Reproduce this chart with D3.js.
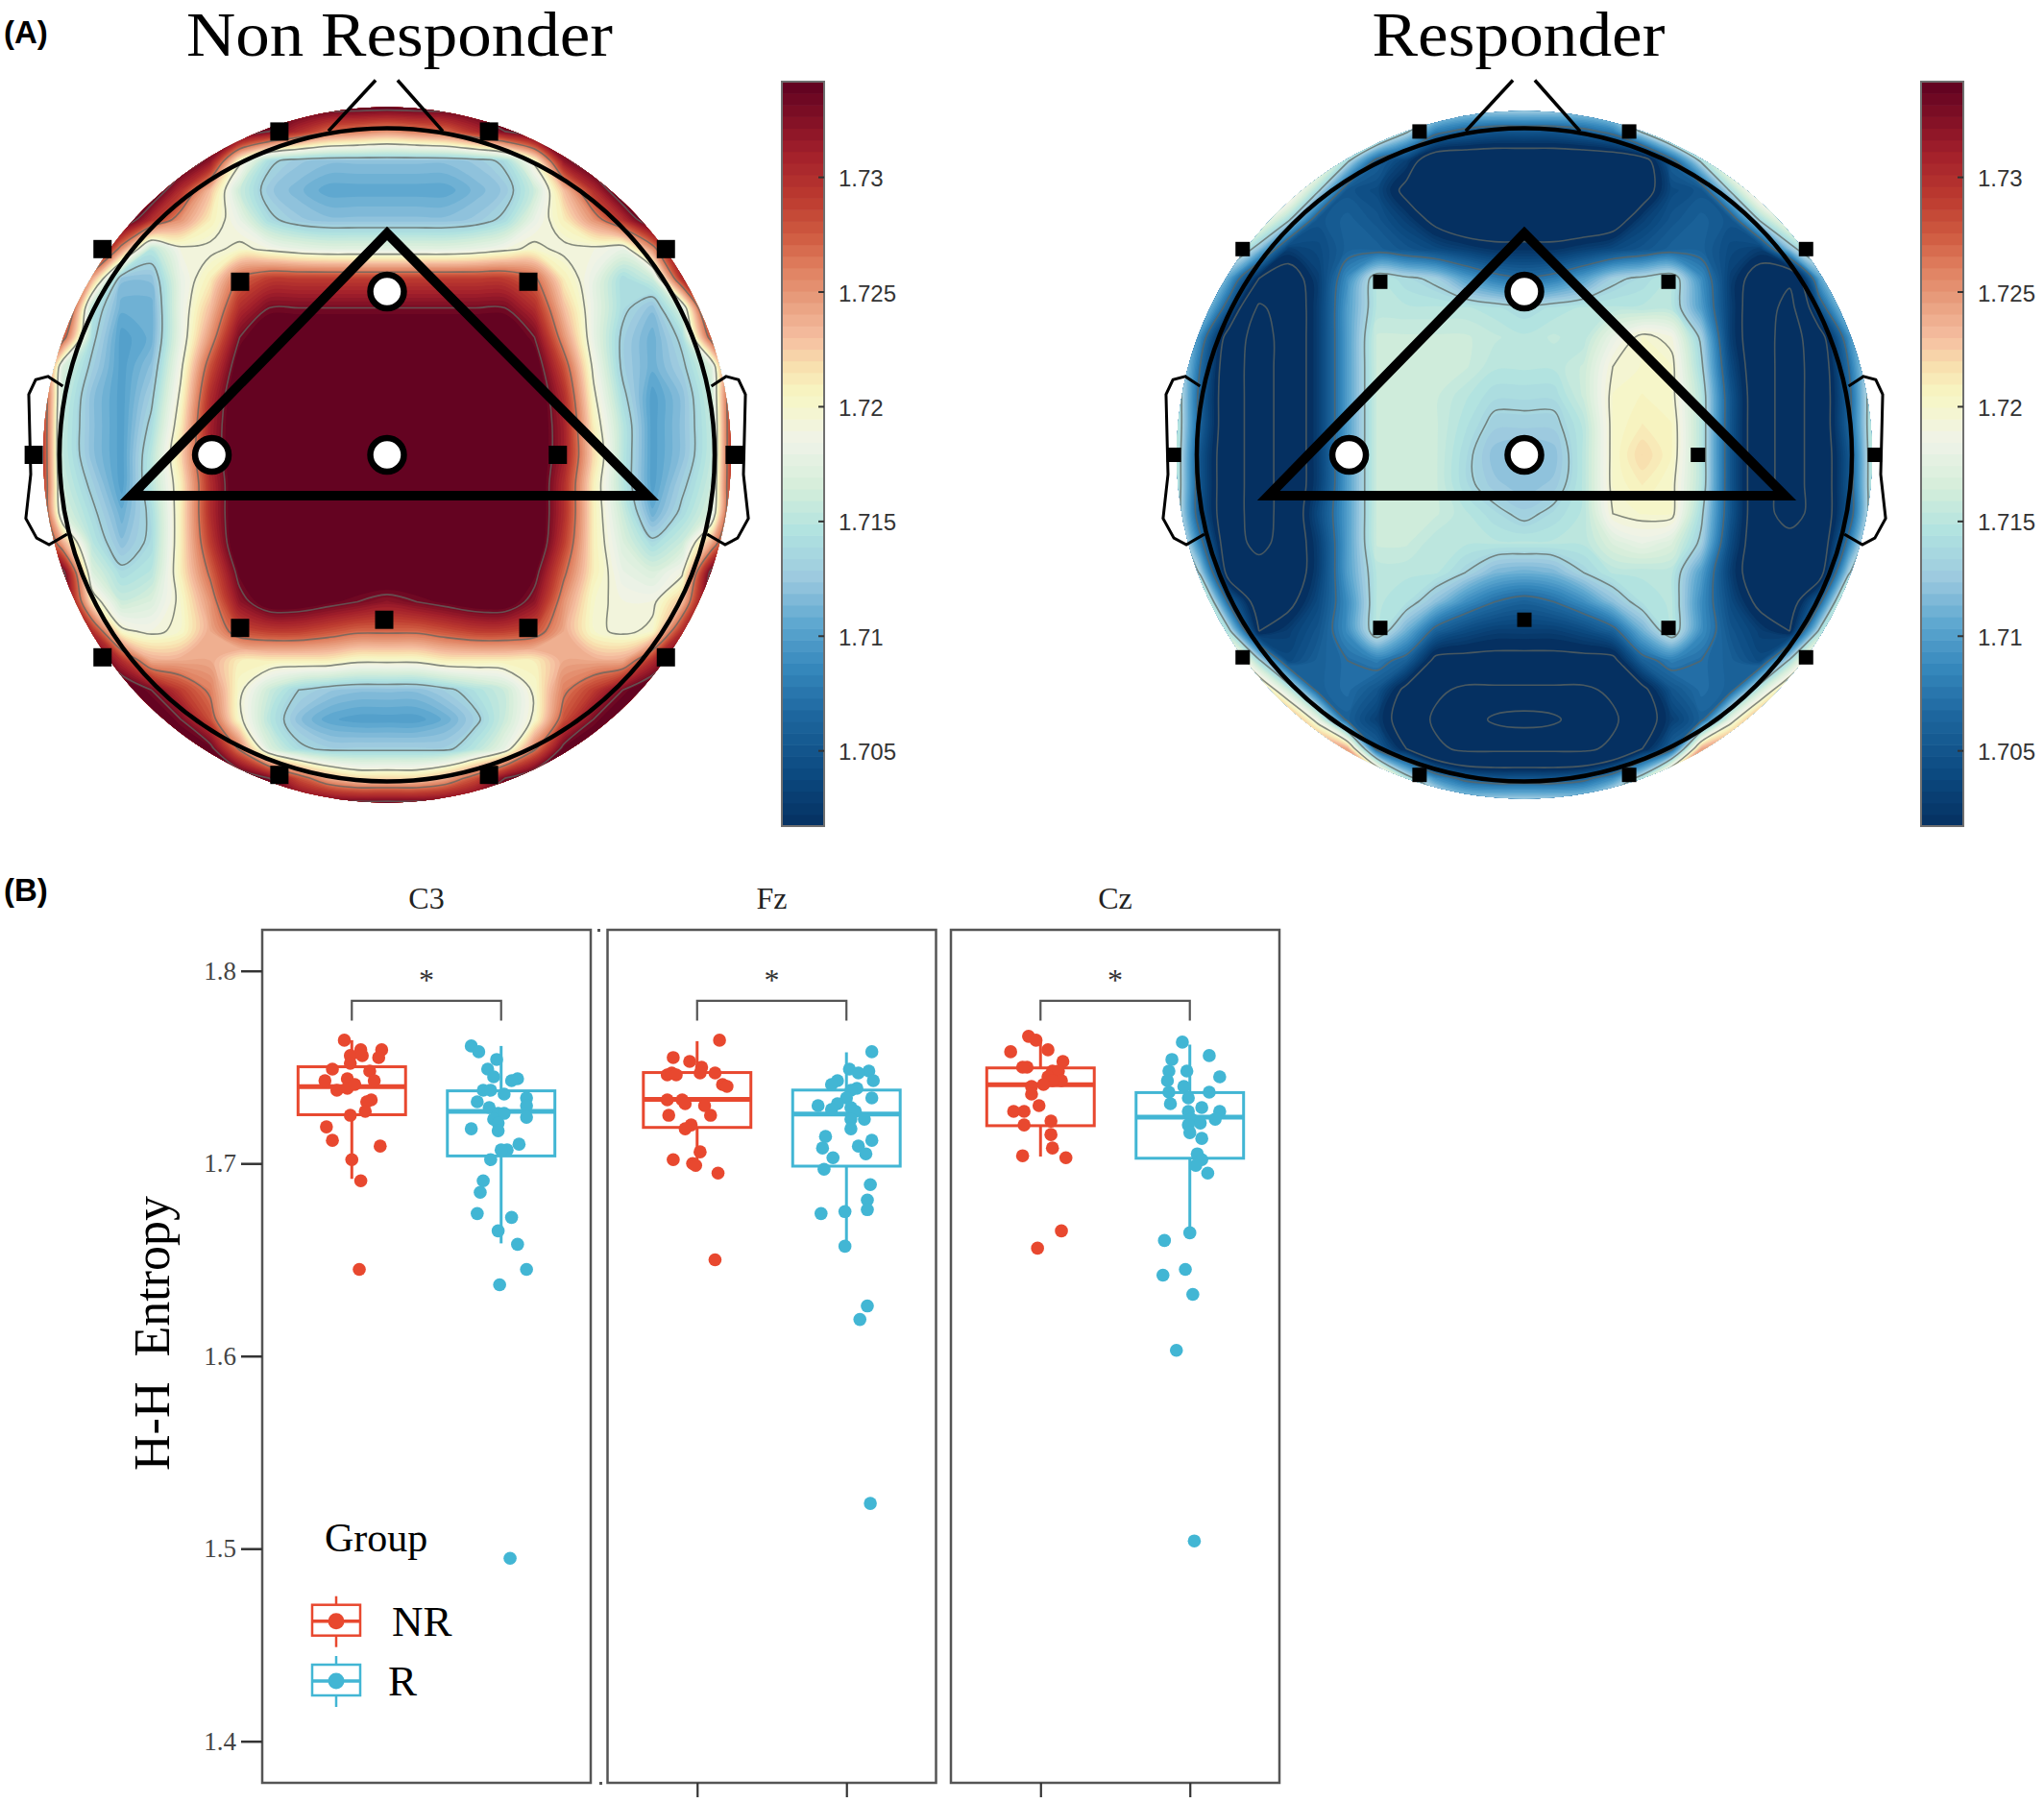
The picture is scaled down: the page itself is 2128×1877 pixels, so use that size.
<!DOCTYPE html>
<html>
<head>
<meta charset="utf-8">
<script src="https://cdn.jsdelivr.net/npm/d3@7"></script>
<style>
  body { margin: 0; background: #fff; }
  svg { display: block; }
  .serif { font-family: "Liberation Serif", serif; }
  .sans { font-family: "Liberation Sans", sans-serif; }
</style>
</head>
<body>
<div id="chart"></div>
<script>
// Topographic values on a 25x25 grid across the head.
// Unit: thousandths above 1.700, so 36 means 1.736. Below-range values only shape the inner contours.
var nrGrid = [
  [36,36,36,36,36,36,36,36,36,36,36,36,36,36,36,36,36,36,36,36,36,36,36,36,36],
  [36,36,36,36,36,36,36,36,33,30,27,26,25,26,27,30,33,36,36,36,36,36,36,36,36],
  [36,36,36,36,36,36,32,20,14,12.5,12,12,12,12,12,12.5,14,20,32,36,36,36,36,36,36],
  [36,36,36,36,36,30,23,16,12.5,11.5,10.5,10.5,10.5,10.5,10.5,11.5,12.5,16,23,30,36,36,36,36,36],
  [36,36,36,36,30,25,21,18,14,12.5,12,12,12,12,12,12.5,14,18,21,25,30,36,36,36,36],
  [36,36,36,25,15,19,19,20,19,18,17.5,17.5,17.5,17.5,17.5,18,19,20,19,19,18,25,36,36,36],
  [36,36,24,12,12,18,21,27,29,29,29,29,29,29,29,29,29,27,21,18,14,16,30,36,36],
  [36,34,15,11,11,18,23,30,33,33,33,33,33,33,33,33,33,30,23,18,14,12,17,34,36],
  [36,28,14,10,11,18,25,33,36,36,36,36,36,36,36,36,36,33,25,18,13,11,14,28,36],
  [36,17,13,10,12,19,28,35,36,36,36,36,36,36,36,36,36,35,28,19,13,11,13,17,36],
  [36,16,12,10,13,20,30,36,36,36,36,36,36,36,36,36,36,36,30,20,14,10,12,16,36],
  [36,15.5,12,10,14,21,31,36,36,36,36,36,36,36,36,36,36,36,31,21,15,10,12,15.5,36],
  [36,15.5,12,10,15,22,31,36,36,36,36,36,36,36,36,36,36,36,31,22,15,10,12,15.5,36],
  [36,16,13,10,15,21,30,36,36,36,36,36,36,36,36,36,36,36,30,21,15,10,13,16,36],
  [36,17,14,11,14,21,30,36,36,36,36,36,36,36,36,36,36,36,30,21,16,11,14,17,36],
  [36,24,15,12,14,21,29,36,36,36,36,36,36,36,36,36,36,36,29,21,17,14,16,24,36],
  [36,34,17,14,15,21,27,34,36,36,36,36,36,36,36,36,36,34,27,21,18,17,19,34,36],
  [36,36,21,16,17,20,25,32,35,35,34,33,32,33,34,35,35,32,25,20,19,19,23,36,36],
  [36,36,30,20,19,20,24,28,29,29,28,27,27,27,28,29,29,28,24,20,19,20,30,36,36],
  [36,36,36,30,24,24,24,21,21,21,21,20,20,20,21,21,21,21,24,24,24,30,36,36,36],
  [36,36,36,36,33,29,26,20,16,13.5,12.5,12,12,12,13,14.5,16,20,26,29,33,36,36,36,36],
  [36,36,36,36,36,33,28,20,15,12,10.5,10,10,10,11,13,16,20,28,33,36,36,36,36,36],
  [36,36,36,36,36,36,34,26,17,14,13,13,13,13,13,15,18,26,34,36,36,36,36,36,36],
  [36,36,36,36,36,36,36,36,33,28,24,22,22,22,24,28,33,36,36,36,36,36,36,36,36],
  [36,36,36,36,36,36,36,36,36,36,36,36,36,36,36,36,36,36,36,36,36,36,36,36,36]
];

var rGrid = [
  [22,22,22,22,22,22,22,22,20,18,16,16,16,16,16,18,20,22,22,22,22,22,22,22,22],
  [22,22,22,22,22,22,22,20,14,8,6,5,5,5,6,8,14,20,22,22,22,22,22,22,22],
  [22,22,22,22,22,22,14,6,3,-2,-2,-2,-2,-2,-2,-2,-1,6,14,22,22,22,22,22,22],
  [22,22,22,22,22,14,5,4,0,-2,-2,-2,-2,-2,-2,-2,-1,4,5,14,22,22,22,22,22],
  [22,22,22,20,14,5,6,5,3,0,-2,-2,-2,-2,-2,-1,3,5,6,5,14,20,22,22,22],
  [22,22,18,12,3,4,6,6,5,4,3,2,2,2,3,4,5,6,6,4,3,12,18,22,22],
  [22,20,10,1,-1,3,9,15,14,13,10,8,7,8,10,13,14,15,9,3,-1,-4,10,20,22],
  [22,14,5,-6,-2,3,10,15,15,15,15,14.5,14,14.5,15,15,15,15,10,3,-2,-7,5,14,22],
  [20,9,-1,-8,-2,3,10,16,16,16,16,15.5,15,15.5,15,18,20,19,13,3,-2,-8,-1,9,20],
  [18,7,-2,-8,-2,3,10,16,16,16,16,15,15,15,16,19.5,20,20,14,4,-2,-8,-2,7,18],
  [18,6,-2,-8,-2,3,10,16,16,16,15,14,14,14,16,20,20.5,20,15,5,-2,-8,-2,6,18],
  [18,6,-2,-8,-2,3,10,16,16,16,14.5,13,13,13,15,20,21,20.5,15,5,-2,-8,-2,6,18],
  [18,5,-2,-8,-2,3,10,16,16,16,14,12,11.5,12,15,20,22,20.5,15,5,-2,-8,-2,5,18],
  [18,5,-2,-8,-2,3,10,16,16,16,14,12.5,12,12.5,15,20,21,20,15,5,-2,-8,-2,5,18],
  [18,5,-2,-8,-2,4,10,16,16,16,15,14,13,14,15,19.5,20,20,14,5,-2,-8,-2,5,18],
  [20,8,-2,-7,-2,3,10,16,16,15,15,15,15,15,15,17,18,17,13,4,-2,-2,-2,8,20],
  [22,13,-1,-2,-2,3,10,15,15,15,13.5,11.5,11,11.5,13.5,15,15,15,10,3,-2,-2,-1,13,22],
  [24,20,6,-1,0,4,9,15,14.5,12,9,7,6,7,9,12,14.5,15,9,4,0,-1,6,20,24],
  [24,22,14,1,3,5,9,15,11,6,4,3,3,3,4,6,11,15,9,5,3,1,14,22,24],
  [28,28,24,14,4,6,7,8,6,0,0,0,0,0,0,0,6,8,7,6,4,14,24,28,28],
  [28,28,28,24,16,6,7,5,0,-4,-6,-6,-6,-6,-6,-4,0,5,7,6,16,24,28,28,28],
  [28,28,28,28,26,18,6,3,-1,-6,-8,-12,-13,-12,-8,-6,-1,3,6,18,26,28,28,28,28],
  [28,28,28,28,28,28,24,6,1,-4,-6,-6,-6,-6,-6,-4,1,6,24,28,28,28,28,28,28],
  [28,28,28,28,28,28,28,28,15,9,6,5,5,5,6,9,15,28,28,28,28,28,28,28,28],
  [28,28,28,28,28,28,28,28,28,20,16,16,16,16,16,20,28,28,28,28,28,28,28,28,28]
];

// Colour bar
var cbDomain = [1.7017, 1.73415];
var cbTicks = [1.705, 1.71, 1.715, 1.72, 1.725, 1.73];
var cbStopValues = [1.7017, 1.704, 1.7065, 1.7085, 1.7105, 1.7125, 1.7145, 1.7165, 1.7185, 1.7205, 1.7218, 1.723, 1.7245, 1.726, 1.7275, 1.729, 1.731, 1.73415];
var cbStopColors = ["#053061", "#0c4a80", "#1d669e", "#3486bb", "#5da7cf", "#9cc9df", "#b0e2e0", "#d5eeda", "#eff3e8", "#f7f7c4", "#f8dfae", "#f5bea0", "#e9a080", "#e08060", "#cf5a40", "#bd3c30", "#a3202b", "#5f0020"];
var contourLevels = [1.689, 1.695, 1.701, 1.707, 1.7135, 1.7195, 1.7265, 1.733];

// Electrodes in head units, where the head circle has radius 1
var sensors = [[-0.32,-0.99],[0.32,-0.99],[-0.86,-0.63],[0.86,-0.63],[-0.44,-0.53],[0.44,-0.53],[-1.07,0],[0.53,0],[1.07,0],[-0.44,0.53],[0,0.505],[0.44,0.53],[-0.86,0.62],[0.86,0.62],[-0.32,0.98],[0.32,0.98]];
var markedSensors = [[0,-0.5],[-0.535,0],[0,0]];
var triangle = [[-0.781,0.125],[0,-0.678],[0.795,0.125]];
var noseLines = [[[-0.179,-0.991],[-0.035,-1.147]],[[0.17,-0.991],[0.032,-1.147]]];
var leftEar = [[-0.99,-0.21],[-1.035,-0.24],[-1.073,-0.23],[-1.094,-0.185],[-1.088,0.06],[-1.103,0.195],[-1.07,0.255],[-1.032,0.275],[-0.977,0.243]];

// Box plots
var groups = ["NR", "R"];
var channels = ["C3", "Fz", "Cz"];
var yTicks = [1.4, 1.5, 1.6, 1.7, 1.8];
var groupColors = ["#e8482f", "#42b6d4"];

// [low whisker, q1, median, q3, high whisker]
var c3Boxes = [[1.692, 1.7253, 1.7399, 1.7502, 1.764], [1.6585, 1.7039, 1.727, 1.7377, 1.761]];
var fzBoxes = [[1.696, 1.7187, 1.7333, 1.7472, 1.7635], [1.6568, 1.6986, 1.7256, 1.7381, 1.7577]];
var czBoxes = [[1.7036, 1.7196, 1.7409, 1.7496, 1.7644], [1.6639, 1.7027, 1.724, 1.7368, 1.7617]];

// Points: [horizontal jitter in category steps, entropy]
var c3Nr = [[-0.05,1.764],[0.06,1.759],[0.2,1.759],[-0.01,1.756],[0.07,1.756],[0.18,1.755],[-0.01,1.752],[-0.13,1.749],[0.12,1.748],[-0.18,1.743],[-0.03,1.744],[0.15,1.743],[-0.1,1.738],[-0.03,1.739],[0.02,1.741],[0.13,1.733],[0.1,1.732],[0.09,1.727],[-0.01,1.725],[-0.17,1.719],[-0.13,1.712],[0.19,1.709],[0,1.702],[0.06,1.691],[0.05,1.645]];
var c3R = [[-0.2,1.761],[-0.15,1.758],[-0.03,1.754],[-0.09,1.749],[-0.05,1.745],[0.11,1.744],[0.07,1.743],[-0.12,1.738],[-0.07,1.738],[0.02,1.736],[-0.16,1.732],[0.17,1.734],[0.17,1.73],[-0.08,1.729],[-0.02,1.726],[0.02,1.726],[0.17,1.724],[-0.05,1.723],[-0.02,1.721],[-0.2,1.718],[-0.02,1.717],[0.12,1.71],[0.04,1.707],[0,1.707],[-0.07,1.702],[-0.12,1.691],[-0.14,1.685],[-0.16,1.674],[0.07,1.672],[-0.02,1.665],[0.11,1.658],[0.17,1.645],[-0.01,1.637],[0.06,1.495]];
var fzNr = [[0.15,1.764],[-0.16,1.755],[-0.05,1.753],[0.03,1.75],[0.02,1.747],[0.12,1.747],[-0.2,1.746],[-0.17,1.747],[-0.14,1.746],[0.17,1.741],[0.2,1.74],[-0.2,1.733],[-0.1,1.733],[-0.08,1.731],[0.05,1.73],[-0.19,1.725],[0.09,1.725],[-0.04,1.72],[-0.08,1.718],[0.02,1.706],[-0.16,1.702],[-0.03,1.7],[-0.01,1.699],[0.14,1.695],[0.12,1.65]];
var fzR = [[0.17,1.758],[0.02,1.749],[0.15,1.748],[0.08,1.747],[0.18,1.743],[-0.06,1.743],[-0.1,1.741],[0.07,1.739],[0.03,1.738],[0.17,1.734],[0,1.734],[-0.06,1.731],[-0.19,1.73],[-0.1,1.728],[0.03,1.729],[0.06,1.727],[0.03,1.723],[0.12,1.723],[0.03,1.718],[-0.14,1.714],[-0.16,1.708],[0.17,1.712],[0.08,1.709],[0.13,1.705],[-0.09,1.703],[-0.15,1.697],[0.16,1.689],[0.14,1.681],[0.14,1.676],[-0.17,1.674],[-0.01,1.675],[-0.01,1.657],[0.14,1.626],[0.09,1.619],[0.16,1.5235]];
var czNr = [[-0.08,1.766],[-0.03,1.764],[-0.2,1.758],[0.05,1.759],[0.15,1.753],[-0.09,1.75],[-0.12,1.75],[0.08,1.748],[0.12,1.748],[0.05,1.745],[0.14,1.743],[0.08,1.743],[0.02,1.741],[-0.06,1.74],[-0.06,1.736],[-0.01,1.73],[-0.18,1.727],[-0.11,1.727],[0.07,1.722],[-0.11,1.72],[0.07,1.715],[0.08,1.708],[-0.12,1.704],[0.17,1.703],[0.14,1.665],[-0.02,1.656]];
var czR = [[-0.05,1.763],[0.13,1.756],[-0.12,1.754],[-0.14,1.748],[-0.02,1.748],[0.2,1.745],[-0.15,1.743],[-0.04,1.74],[0.13,1.737],[-0.14,1.737],[-0.13,1.731],[-0.01,1.734],[0.08,1.729],[0.2,1.727],[-0.01,1.727],[0.17,1.723],[0.01,1.723],[0.07,1.721],[-0.01,1.72],[0,1.716],[0.08,1.713],[0.05,1.705],[0.08,1.702],[0.04,1.699],[0.12,1.695],[0,1.664],[-0.17,1.66],[-0.03,1.645],[-0.18,1.642],[0.02,1.632],[-0.09,1.603],[0.03,1.504]];

var channelBoxes = [c3Boxes, fzBoxes, czBoxes];
var channelPoints = [[c3Nr, c3R], [fzNr, fzR], [czNr, czR]];

var svg = d3.select("#chart")
  .append("svg")
  .attr("width", 2128)
  .attr("height", 1877);

// Piecewise colour scale cut into the 64 bands of the colour bar
var bandCount = 64;
var smoothColor = d3.scaleLinear().domain(cbStopValues).range(cbStopColors);
var bandEdges = d3.range(bandCount + 1).map(i => cbDomain[0] + i * (cbDomain[1] - cbDomain[0]) / bandCount);

// ---------- Panel A ----------
function drawHead(grid, cx, cy, discRx, discRy, squareSize, sensorShift, id) {
  var hx = d3.scaleLinear().domain([-1, 1]).range([cx - 341, cx + 341]);
  var hy = d3.scaleLinear().domain([-1, 1]).range([cy - 340, cy + 340]);
  var gx = d3.scaleLinear().domain([0, 24]).range([hx(-1.08), hx(1.08)]);
  var gy = d3.scaleLinear().domain([0, 24]).range([hy(-1.08), hy(1.08)]);

  svg.append("clipPath").attr("id", id)
    .append("ellipse")
    .attr("cx", cx).attr("cy", cy).attr("rx", discRx).attr("ry", discRy);

  var values = d3.merge(grid).map(v => 1.7 + v / 1000);
  var contours = d3.contours().size([25, 25]);

  // Rounded rings, so the coarse grid does not show as straight segments
  var ring = d3.line()
    .x(d => gx(d[0] - 0.5))
    .y(d => gy(d[1] - 0.5))
    .curve(d3.curveCatmullRomClosed.alpha(0.5));
  var contourPath = function(d) {
    return d.coordinates.map(poly => poly.map(r => ring(r.slice(0, -1))).join("")).join("");
  };

  var map = svg.append("g").attr("clip-path", `url(#${id})`);
  map.append("ellipse")
    .attr("cx", cx).attr("cy", cy).attr("rx", discRx).attr("ry", discRy)
    .attr("fill", smoothColor(bandEdges[0]));

  map.selectAll("path.band")
    .data(contours.thresholds(bandEdges.slice(1, -1))(values))
    .enter().append("path")
    .attr("class", "band")
    .attr("d", contourPath)
    .attr("fill-rule", "evenodd")
    .attr("fill", d => smoothColor(d.value + (bandEdges[1] - bandEdges[0]) / 2));

  map.selectAll("path.level")
    .data(contours.thresholds(contourLevels)(values))
    .enter().append("path")
    .attr("class", "level")
    .attr("d", contourPath)
    .attr("fill", "none")
    .attr("stroke", "#5f6560")
    .attr("stroke-opacity", 0.75)
    .attr("stroke-width", 1.6);

  svg.append("ellipse")
    .attr("cx", cx).attr("cy", cy).attr("rx", 341).attr("ry", 340)
    .attr("fill", "none").attr("stroke", "#000").attr("stroke-width", 4.5);

  var line = d3.line().x(d => hx(d[0])).y(d => hy(d[1]));
  noseLines.forEach(function(n) {
    svg.append("path").attr("d", line(n)).attr("fill", "none").attr("stroke", "#000").attr("stroke-width", 3.5);
  });
  [1, -1].forEach(function(side) {
    svg.append("path")
      .attr("d", line(leftEar.map(p => [p[0] * -side, p[1]])))
      .attr("fill", "none").attr("stroke", "#000").attr("stroke-width", 3);
  });

  svg.append("g").selectAll("rect")
    .data(sensors)
    .enter().append("rect")
    .attr("x", d => hx(d[0]) - squareSize / 2 + sensorShift)
    .attr("y", d => hy(d[1]) - squareSize / 2)
    .attr("width", squareSize)
    .attr("height", squareSize)
    .attr("fill", "#000");

  svg.append("path")
    .attr("d", line(triangle) + "Z")
    .attr("fill", "none")
    .attr("stroke", "#000")
    .attr("stroke-width", 10)
    .attr("stroke-linejoin", "miter")
    .attr("stroke-miterlimit", 10);

  svg.append("g").selectAll("circle")
    .data(markedSensors)
    .enter().append("circle")
    .attr("cx", d => hx(d[0]))
    .attr("cy", d => hy(d[1]))
    .attr("r", 17.5)
    .attr("fill", "#fff")
    .attr("stroke", "#000")
    .attr("stroke-width", 6.5);
}

function drawColorbar(x) {
  var barWidth = 44;
  var y = d3.scaleLinear().domain(cbDomain).range([860, 85]);
  var bar = svg.append("g");
  bar.selectAll("rect")
    .data(d3.pairs(bandEdges))
    .enter().append("rect")
    .attr("x", x)
    .attr("width", barWidth)
    .attr("y", d => y(d[1]))
    .attr("height", d => y(d[0]) - y(d[1]) + 0.6)
    .attr("fill", d => smoothColor((d[0] + d[1]) / 2));
  bar.append("rect")
    .attr("x", x).attr("y", 85)
    .attr("width", barWidth).attr("height", 775)
    .attr("fill", "none").attr("stroke", "#6f6f6f").attr("stroke-width", 2);

  var axis = svg.append("g")
    .attr("transform", `translate(${x + barWidth}, 0)`)
    .call(d3.axisRight(y).tickValues(cbTicks).tickSize(-6).tickPadding(15).tickFormat(d3.format("")));
  axis.select(".domain").remove();
  axis.selectAll("line").attr("stroke", "#333").attr("stroke-width", 2);
  axis.selectAll("text")
    .attr("class", "sans")
    .attr("font-size", 24)
    .attr("fill", "#333")
    .attr("dy", "0.4em");
}

drawHead(nrGrid, 403, 473.5, 358, 362, 19, -3, "discNr");
drawHead(rGrid, 1587, 473.5, 362, 358, 15, 0, "discR");
drawColorbar(814);
drawColorbar(2000);

svg.append("text").attr("class", "serif")
  .attr("x", 416).attr("y", 58)
  .attr("text-anchor", "middle").attr("font-size", 65)
  .attr("textLength", 444).attr("lengthAdjust", "spacingAndGlyphs")
  .text("Non Responder");
svg.append("text").attr("class", "serif")
  .attr("x", 1581).attr("y", 58)
  .attr("text-anchor", "middle").attr("font-size", 65)
  .attr("textLength", 305).attr("lengthAdjust", "spacingAndGlyphs")
  .text("Responder");

svg.append("text").attr("class", "sans")
  .attr("x", 4).attr("y", 45)
  .attr("font-size", 33).attr("font-weight", "bold")
  .text("(A)");
svg.append("text").attr("class", "sans")
  .attr("x", 4).attr("y", 938)
  .attr("font-size", 33).attr("font-weight", "bold")
  .text("(B)");

// ---------- Panel B ----------
var panelLefts = [273, 632.5, 990];
var panelWidth = 342;
var panelTop = 968;
var panelBottom = 1856;

var y = d3.scaleLinear()
  .domain([1.8, 1.4])
  .range([1010.7, 1812.7]);

var x = d3.scalePoint().domain(groups).range([0, panelWidth]).padding(0.6);
var step = x.step();

channels.forEach(function(channel, c) {
  var panel = svg.append("g").attr("transform", `translate(${panelLefts[c]}, 0)`);

  panel.append("rect")
    .attr("x", 0).attr("y", panelTop)
    .attr("width", panelWidth).attr("height", panelBottom - panelTop)
    .attr("fill", "none").attr("stroke", "#555").attr("stroke-width", 2.5);

  panel.append("text").attr("class", "serif")
    .attr("x", panelWidth / 2).attr("y", 946)
    .attr("text-anchor", "middle").attr("font-size", 32).attr("fill", "#222")
    .text(channel);

  groups.forEach(function(group, g) {
    var box = channelBoxes[c][g];
    var cx = x(group);
    var boxWidth = step * 0.72;
    var color = groupColors[g];
    var gBox = panel.append("g").attr("stroke", color).attr("fill", "none");
    gBox.append("line")
      .attr("x1", cx).attr("x2", cx).attr("y1", y(box[4])).attr("y2", y(box[3]))
      .attr("stroke-width", 3);
    gBox.append("line")
      .attr("x1", cx).attr("x2", cx).attr("y1", y(box[1])).attr("y2", y(box[0]))
      .attr("stroke-width", 3);
    gBox.append("rect")
      .attr("x", cx - boxWidth / 2).attr("y", y(box[3]))
      .attr("width", boxWidth).attr("height", y(box[1]) - y(box[3]))
      .attr("stroke-width", 3);
    gBox.append("line")
      .attr("x1", cx - boxWidth / 2).attr("x2", cx + boxWidth / 2)
      .attr("y1", y(box[2])).attr("y2", y(box[2]))
      .attr("stroke-width", 5);

    panel.append("g").selectAll("circle")
      .data(channelPoints[c][g])
      .enter().append("circle")
      .attr("cx", d => cx + d[0] * step)
      .attr("cy", d => y(d[1]))
      .attr("r", 6.8)
      .attr("fill", color);
  });

  // Significance bracket
  panel.append("path")
    .attr("d", d3.line()([[x("NR"), y(1.7742)], [x("NR"), y(1.7845)], [x("R"), y(1.7845)], [x("R"), y(1.7742)]]))
    .attr("fill", "none").attr("stroke", "#555").attr("stroke-width", 2.2);
  panel.append("text").attr("class", "serif")
    .attr("x", panelWidth / 2).attr("y", 1031)
    .attr("text-anchor", "middle").attr("font-size", 32).attr("fill", "#333")
    .text("*");

  if (c > 0) {
    var bottomAxis = panel.append("g")
      .attr("transform", `translate(0, ${panelBottom})`)
      .call(d3.axisBottom(x).tickSize(15).tickFormat(""));
    bottomAxis.select(".domain").remove();
    bottomAxis.selectAll("line").attr("stroke", "#333").attr("stroke-width", 2.2);
  }
});

var leftAxis = svg.append("g")
  .attr("transform", `translate(${panelLefts[0]}, 0)`)
  .call(d3.axisLeft(y).tickValues(yTicks).tickSize(22).tickPadding(5).tickFormat(d3.format(".1f")));
leftAxis.select(".domain").remove();
leftAxis.selectAll("line").attr("stroke", "#333").attr("stroke-width", 2.5);
leftAxis.selectAll("text")
  .attr("class", "serif")
  .attr("font-size", 27)
  .attr("fill", "#444");

svg.append("text").attr("class", "serif")
  .attr("transform", "translate(176, 1388) rotate(-90)")
  .attr("text-anchor", "middle")
  .attr("font-size", 52)
  .style("white-space", "pre")
  .text("H-H  Entropy");

// Small marks left between the C3 and Fz frames
svg.append("rect").attr("x", 622).attr("y", 967).attr("width", 3).attr("height", 3).attr("fill", "#555");
svg.append("rect").attr("x", 624).attr("y", 1855).attr("width", 3).attr("height", 3).attr("fill", "#555");

// Legend
svg.append("text").attr("class", "serif")
  .attr("x", 338).attr("y", 1615)
  .attr("font-size", 42)
  .text("Group");

var legendTop = [1670.7, 1733];
groups.forEach(function(group, g) {
  var top = legendTop[g];
  var key = svg.append("g").attr("stroke", groupColors[g]).attr("fill", "none").attr("stroke-width", 2.5);
  key.append("line").attr("x1", 350).attr("x2", 350).attr("y1", top - 9).attr("y2", top + 44);
  key.append("rect").attr("x", 325).attr("y", top).attr("width", 50).attr("height", 32).attr("fill", "#fff");
  key.append("line").attr("x1", 325).attr("x2", 375).attr("y1", top + 17).attr("y2", top + 17).attr("stroke-width", 3.5);
  key.append("circle").attr("cx", 350).attr("cy", top + 17).attr("r", 8.5).attr("fill", groupColors[g]).attr("stroke", "none");
  svg.append("text").attr("class", "serif")
    .attr("x", g === 0 ? 408 : 404).attr("y", top + 32)
    .attr("font-size", 45)
    .text(group);
});
</script>
</body>
</html>
